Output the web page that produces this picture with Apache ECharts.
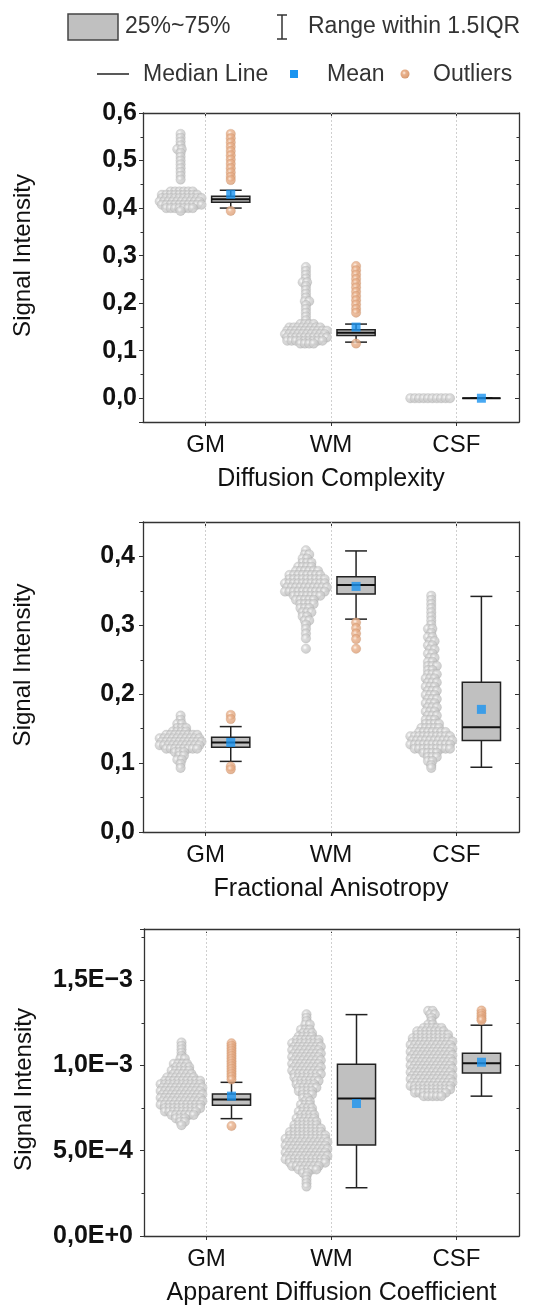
<!DOCTYPE html>
<html><head><meta charset="utf-8">
<script src="https://cdn.jsdelivr.net/npm/echarts@6/dist/echarts.min.js"></script>
<style>html,body{margin:0;padding:0;background:#fff}#c{width:538px;height:1307px}</style>
</head><body><div id="c"></div>
<script>
// ---------- data ----------
const categories = ['GM', 'WM', 'CSF'];
const panelNames = ['Diffusion Complexity', 'Fractional Anisotropy', 'Apparent Diffusion Coefficient'];
const yTitle = 'Signal Intensity';

// swarm levels: [value, number of dots at that level]
const swarmDC_GM = [[0.556,1],[0.548,1],[0.540,1],[0.532,1],[0.524,2],[0.516,1],[0.508,1],[0.500,1],[0.492,1],[0.484,1],[0.476,1],[0.468,1],[0.460,1],
  [0.435,6],[0.428,9],[0.421,10],[0.414,10],[0.407,10],[0.400,7],[0.394,1]];
const swarmDC_WM = [[0.276,1],[0.268,1],[0.260,1],[0.252,1],[0.244,2],[0.236,1],[0.228,1],[0.220,1],[0.212,1],[0.204,2],[0.196,1],[0.188,1],[0.180,1],[0.172,1],[0.164,1],
  [0.156,4],[0.149,8],[0.142,10],[0.135,10],[0.128,10],[0.121,9],[0.115,4]];
const swarmDC_CSF = [[0.0,10]];

const swarmFA_GM = [[0.169,1],[0.163,1],[0.157,2],[0.151,3],[0.146,4],[0.141,8],[0.136,10],[0.131,10],[0.126,10],[0.121,8],[0.116,3],[0.111,2],[0.105,2],[0.099,1],[0.093,1]];
const swarmFA_WM = [[0.409,1],[0.403,2],[0.397,2],[0.391,3],[0.385,4],[0.379,6],[0.373,8],[0.367,9],[0.361,10],[0.355,10],[0.349,10],[0.343,7],[0.337,5],[0.331,4],[0.325,3],[0.319,3],[0.313,2],[0.307,2],[0.301,1],[0.295,1],[0.288,1],[0.281,1],[0.266,1]];
const swarmFA_CSF = [[0.343,1],[0.337,1],[0.331,1],[0.325,1],[0.319,1],[0.313,1],[0.307,1],[0.301,1],[0.295,2],[0.289,1],[0.283,2],[0.277,2],[0.271,2],[0.265,2],[0.259,2],[0.253,2],[0.247,2],[0.241,3],[0.235,2],[0.229,3],[0.223,3],[0.217,3],[0.211,3],[0.205,3],[0.199,3],[0.193,3],[0.187,3],[0.181,3],[0.175,3],[0.169,3],[0.163,3],[0.157,4],[0.151,5],[0.145,7],[0.139,10],[0.133,10],[0.127,10],[0.121,9],[0.115,4],[0.109,3],[0.103,2],[0.097,1],[0.093,1]];

const swarmADC_GM = [[1.135e-3,1],[1.115e-3,1],[1.095e-3,1],[1.075e-3,1],[1.055e-3,1],[1.040e-3,2],[1.010e-3,4],[0.990e-3,4],[0.970e-3,5],[0.950e-3,5],[0.930e-3,7],[0.910e-3,9],[0.890e-3,10],[0.870e-3,10],[0.850e-3,10],[0.830e-3,10],[0.810e-3,10],[0.790e-3,10],[0.770e-3,10],[0.750e-3,9],[0.730e-3,8],[0.710e-3,6],[0.690e-3,3],[0.670e-3,2],[0.650e-3,1]];
const swarmADC_WM = [[1.30e-3,1],[1.28e-3,1],[1.26e-3,1],[1.24e-3,2],[1.21e-3,3],[1.19e-3,3],[1.17e-3,4],[1.15e-3,6],[1.13e-3,7],[1.11e-3,7],[1.09e-3,7],[1.07e-3,7],[1.05e-3,7],[1.03e-3,7],[1.01e-3,7],[0.99e-3,7],[0.97e-3,7],[0.95e-3,7],[0.93e-3,6],[0.91e-3,6],[0.89e-3,5],[0.87e-3,5],[0.85e-3,4],[0.83e-3,3],[0.81e-3,2],[0.79e-3,2],[0.77e-3,3],[0.75e-3,3],[0.73e-3,4],[0.71e-3,4],[0.69e-3,5],[0.67e-3,5],[0.65e-3,6],[0.63e-3,7],[0.61e-3,8],[0.59e-3,9],[0.57e-3,10],[0.55e-3,10],[0.53e-3,10],[0.51e-3,10],[0.49e-3,10],[0.47e-3,10],[0.45e-3,10],[0.43e-3,9],[0.41e-3,7],[0.39e-3,5],[0.37e-3,2],[0.35e-3,1],[0.33e-3,1],[0.31e-3,1],[0.29e-3,1]];
const swarmADC_CSF = [[1.32e-3,2],[1.30e-3,2],[1.28e-3,1],[1.26e-3,1],[1.24e-3,2],[1.22e-3,5],[1.20e-3,7],[1.18e-3,8],[1.16e-3,9],[1.14e-3,10],[1.12e-3,10],[1.10e-3,10],[1.08e-3,10],[1.06e-3,10],[1.04e-3,10],[1.02e-3,10],[1.00e-3,10],[0.98e-3,10],[0.96e-3,10],[0.94e-3,10],[0.92e-3,10],[0.90e-3,10],[0.88e-3,10],[0.86e-3,9],[0.84e-3,8],[0.82e-3,5]];

// box stats: [lower whisker, Q1, median, Q3, upper whisker]
const boxDC  = [[0.400,0.412,0.4187,0.425,0.4375],[0.118,0.132,0.138,0.144,0.156],[0,0,0,0,0]];
const boxFA  = [[0.1025,0.123,0.130,0.1377,0.153],[0.309,0.3455,0.3585,0.3706,0.408],[0.094,0.133,0.152,0.2174,0.342]];
const boxADC = [[0.688e-3,0.767e-3,0.800e-3,0.833e-3,0.901e-3],[0.283e-3,0.533e-3,0.806e-3,1.0076e-3,1.298e-3],[0.820e-3,0.955e-3,1.013e-3,1.071e-3,1.236e-3]];

const meanDC  = [0.429, 0.1497, 0.0];
const meanFA  = [0.130, 0.3565, 0.178];
const meanADC = [0.820e-3, 0.777e-3, 1.019e-3];

const outDC  = [[0.556,0.547,0.538,0.529,0.520,0.511,0.502,0.493,0.484,0.475,0.466,0.459,0.394],[0.278,0.269,0.260,0.251,0.242,0.233,0.224,0.215,0.206,0.197,0.188,0.180,0.115],[]];
const outFA  = [[0.170,0.164,0.095,0.091],[0.304,0.296,0.288,0.280,0.266],[]];
const outADC = [[1.130e-3,1.115e-3,1.100e-3,1.085e-3,1.070e-3,1.055e-3,1.040e-3,1.025e-3,1.010e-3,0.995e-3,0.980e-3,0.965e-3,0.950e-3,0.935e-3,0.918e-3,0.645e-3],[],[1.322e-3,1.305e-3,1.290e-3,1.275e-3,1.265e-3]];

// ---------- layout / style ----------
const FONT = '"Liberation Sans", Arial, sans-serif';
const grids = [
  {left:143, right:19, top:113, height:309},
  {left:143, right:19, top:522, height:310},
  {left:144, right:19, top:929, height:310}
];
const yCfg = [
  {min:-0.05, max:0.6, splitNumber:6, step:0.1, fmt:'dec', titlePad:[0,0,0,24], labelMargin:6},
  {min:0, max:0.45, interval:0.1, step:0.1, fmt:'dec', titlePad:[0,0,0,24], labelMargin:8},
  {min:0, max:0.0018, interval:0.0005, step:0.0005, fmt:'sci', titlePad:[0,14,0,0], labelMargin:11}
];
const panels = [
  {swarm:[swarmDC_GM, swarmDC_WM, swarmDC_CSF], box:boxDC, mean:meanDC, out:outDC},
  {swarm:[swarmFA_GM, swarmFA_WM, swarmFA_CSF], box:boxFA, mean:meanFA, out:outFA},
  {swarm:[swarmADC_GM, swarmADC_WM, swarmADC_CSF], box:boxADC, mean:meanADC, out:outADC}
];
const SWARM_SHIFT = -0.2, BOX_SHIFT = 0.2, DOT_STEP_PX = 4.4;

const greyBall = {type:'radial', x:0.4, y:0.38, r:0.62, colorStops:[
  {offset:0, color:'#ffffff'},{offset:0.14, color:'#f2f2f2'},{offset:0.35, color:'#d4d4d4'},{offset:0.8, color:'#c6c6c6'},{offset:1, color:'#b9b9b9'}]};
const orangeBall = {type:'radial', x:0.4, y:0.38, r:0.62, colorStops:[
  {offset:0, color:'#fff6ee'},{offset:0.14, color:'#f6d6bf'},{offset:0.35, color:'#e8b08b'},{offset:0.8, color:'#dfa37b'},{offset:1, color:'#d3966d'}]};

function fmtLabel(v, cfg) {
  const k = v / cfg.step;
  if (Math.abs(k - Math.round(k)) > 1e-6 || v < -1e-12) return '';
  if (cfg.fmt === 'dec') return v.toFixed(1).replace('.', ',');
  if (Math.abs(v) < 1e-15) return '0,0E+0';
  const e = Math.floor(Math.log10(v) + 1e-9);
  const m = v / Math.pow(10, e);
  return m.toFixed(1).replace('.', ',') + 'E' + (e < 0 ? '\u2212' : '+') + Math.abs(e);
}

// beeswarm layout: dots of one level are spread side by side, alternate levels staggered by a quarter step
function swarmPoints(levels, center, dxUnits) {
  const pts = [];
  levels.forEach(([v, n], j) => {
    const stagger = n > 1 ? ((j % 2) - 0.5) * dxUnits * 0.5 : 0;
    for (let k = 0; k < n; k++) pts.push([center + stagger + (k - (n - 1) / 2) * dxUnits, v]);
  });
  return pts;
}

const xAxis = [], yAxis = [], series = [];
grids.forEach((g, p) => {
  const axisLine = {show:true, onZero:false, lineStyle:{color:'#333', width:1.3}};
  xAxis.push({type:'category', gridIndex:p, data:categories, position:'bottom', boundaryGap:true,
    axisLine, axisTick:{show:true, alignWithLabel:true, length:4, lineStyle:{color:'#333'}},
    axisLabel:{fontSize:24, color:'#111', margin:11, fontFamily:FONT},
    name:panelNames[p], nameLocation:'middle', nameGap:45,
    nameTextStyle:{fontSize:25, color:'#111', fontFamily:FONT}, splitLine:{show:false}});
  xAxis.push({type:'category', gridIndex:p, data:categories, position:'top', boundaryGap:true,
    axisLine, axisTick:{show:true, inside:true, alignWithLabel:true, length:4, lineStyle:{color:'#333'}},
    axisLabel:{show:false}, splitLine:{show:false}});
  xAxis.push({type:'value', gridIndex:p, min:0, max:3, show:false, splitLine:{show:false}});
  const c = yCfg[p];
  const base = {type:'value', gridIndex:p, min:c.min, max:c.max, splitLine:{show:false}};
  if (c.interval) base.interval = c.interval; else base.splitNumber = c.splitNumber;
  yAxis.push(Object.assign({}, base, {position:'left', axisLine,
    axisTick:{show:true, length:4, lineStyle:{color:'#333'}},
    minorTick:{show:true, splitNumber:2, length:2.5, lineStyle:{color:'#333'}},
    axisLabel:{fontSize:25, fontWeight:'bold', color:'#111', margin:c.labelMargin, fontFamily:FONT, formatter:v => fmtLabel(v, c)},
    name:yTitle, nameLocation:'middle', nameGap:108,
    nameTextStyle:{fontSize:24, color:'#111', fontFamily:FONT, padding:c.titlePad}}));
  yAxis.push(Object.assign({}, base, {position:'right', axisLine,
    axisTick:{show:true, inside:true, length:4, lineStyle:{color:'#333'}},
    minorTick:{show:true, splitNumber:2, length:2.5, lineStyle:{color:'#333'}},
    axisLabel:{show:false}}));

  const gw = 538 - g.left - g.right;
  const dxUnits = DOT_STEP_PX * categories.length / gw;
  const P = panels[p];
  const xi = p * 3 + 2, yi = p * 2;
  let swarmData = [];
  P.swarm.forEach((lv, i) => { swarmData = swarmData.concat(swarmPoints(lv, i + 0.5 + SWARM_SHIFT, dxUnits)); });
  series.push({type:'scatter', name:'data', xAxisIndex:xi, yAxisIndex:yi, data:swarmData, symbolSize:9.5,
    itemStyle:{color:greyBall, borderColor:'rgba(140,140,140,0.35)', borderWidth:0.6}, z:2, silent:true,
    markLine:{silent:true, symbol:['none','none'], label:{show:false},
      lineStyle:{color:'#cfcfcf', type:[2,2], width:1},
      data:categories.map((_, i) => ({xAxis:i + 0.5}))}});
  series.push({type:'custom', name:'25%~75%', xAxisIndex:xi, yAxisIndex:yi, z:3,
    data:P.box.map((b, i) => [i + 0.5 + BOX_SHIFT].concat(b)),
    encode:{x:0, y:[1,2,3,4,5]},
    renderItem:function(params, api) {
      const x = api.value(0);
      const lo = api.coord([x, api.value(1)]), q1 = api.coord([x, api.value(2)]),
            md = api.coord([x, api.value(3)]), q3 = api.coord([x, api.value(4)]), hi = api.coord([x, api.value(5)]);
      const bw = api.size([0.305, 0])[0], cw = api.size([0.175, 0])[0];
      const cx = lo[0];
      const ls = {stroke:'#222', lineWidth:1.5};
      return {type:'group', children:[
        {type:'line', shape:{x1:cx, y1:hi[1], x2:cx, y2:q3[1]}, style:ls},
        {type:'line', shape:{x1:cx, y1:q1[1], x2:cx, y2:lo[1]}, style:ls},
        {type:'line', shape:{x1:cx - cw/2, y1:hi[1], x2:cx + cw/2, y2:hi[1]}, style:ls},
        {type:'line', shape:{x1:cx - cw/2, y1:lo[1], x2:cx + cw/2, y2:lo[1]}, style:ls},
        {type:'rect', shape:{x:cx - bw/2, y:q3[1], width:bw, height:q1[1] - q3[1]}, style:{fill:'#c0c0c0', stroke:'#222', lineWidth:1.5}},
        {type:'line', shape:{x1:cx - bw/2, y1:md[1], x2:cx + bw/2, y2:md[1]}, style:{stroke:'#111', lineWidth:2}}
      ]};
    }});
  let outData = [];
  P.out.forEach((arr, i) => arr.forEach(v => outData.push([i + 0.5 + BOX_SHIFT, v])));
  series.push({type:'scatter', name:'Outliers', xAxisIndex:xi, yAxisIndex:yi, data:outData, symbolSize:9.5,
    itemStyle:{color:orangeBall, borderColor:'rgba(170,110,70,0.3)', borderWidth:0.6}, z:4, silent:true});
  series.push({type:'scatter', name:'Mean', xAxisIndex:xi, yAxisIndex:yi, symbol:'rect', symbolSize:9,
    data:P.mean.map((v, i) => [i + 0.5 + BOX_SHIFT, v]), itemStyle:{color:'#1a94f0'}, z:5, silent:true});
});

const legendFont = '23px ' + FONT;
const graphic = [
  {type:'rect', shape:{x:68, y:14, width:50, height:26}, style:{fill:'#c0c0c0', stroke:'#444', lineWidth:1.5}},
  {type:'text', x:125, y:27, style:{text:'25%~75%', font:legendFont, fill:'#333', verticalAlign:'middle'}},
  {type:'line', shape:{x1:282, y1:15, x2:282, y2:39}, style:{stroke:'#333', lineWidth:1.5}},
  {type:'line', shape:{x1:277, y1:15, x2:287, y2:15}, style:{stroke:'#333', lineWidth:1.5}},
  {type:'line', shape:{x1:277, y1:39, x2:287, y2:39}, style:{stroke:'#333', lineWidth:1.5}},
  {type:'text', x:308, y:27, style:{text:'Range within 1.5IQR', font:legendFont, fill:'#333', verticalAlign:'middle'}},
  {type:'line', shape:{x1:97, y1:74, x2:129, y2:74}, style:{stroke:'#222', lineWidth:1.5}},
  {type:'text', x:143, y:75, style:{text:'Median Line', font:legendFont, fill:'#333', verticalAlign:'middle'}},
  {type:'rect', shape:{x:290, y:70, width:8, height:8}, style:{fill:'#1a94f0'}},
  {type:'text', x:327, y:75, style:{text:'Mean', font:legendFont, fill:'#333', verticalAlign:'middle'}},
  {type:'circle', shape:{cx:405, cy:74, r:4.5}, style:{fill:orangeBall}},
  {type:'text', x:433, y:75, style:{text:'Outliers', font:legendFont, fill:'#333', verticalAlign:'middle'}}
];

const chart = echarts.init(document.getElementById('c'), null, {renderer:'canvas'});
chart.setOption({animation:false, backgroundColor:'#fff', textStyle:{fontFamily:FONT},
  grid:grids, xAxis, yAxis, series, graphic});
</script></body></html>
